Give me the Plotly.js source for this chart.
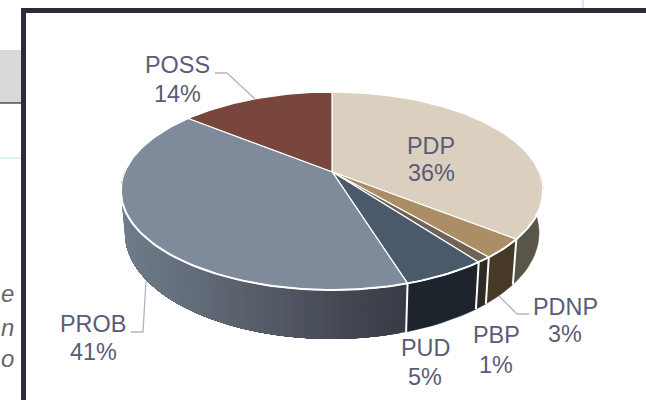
<!DOCTYPE html>
<html><head><meta charset="utf-8">
<script src="https://cdn.plot.ly/plotly-3.0.1.min.js"></script>
<style>html,body{margin:0;padding:0;background:#fff;overflow:hidden}#c{width:646px;height:400px}</style>
</head><body><div id="c"></div>
<script>
const categories = ['PDP','PDNP','PBP','PUD','PROB','POSS'];
const shares = [35.7,3.15,0.95,5.4,40.6,14.2];
const topColors = ['#dbd0bf','#ab8e66','#6f6357','#4a5a6b','#7f8b9b','#78463c'];
const wallColors = ['#5a554b','#463926','#2e2a25','#1e242c',null,'#4a2a24'];
const wallGradientX = [120,200,280,340,410];
const wallGradientRGB = [[112,124,138],[97,106,119],[82,88,100],[68,72,83],[56,59,69]];
const labelPos = [[431,146,173],[565,307,334],[496,335,365],[425,348,377],[93,324,352],[177,65,94]];

// tilted-disc projection (plot x/y range equals the page's pixels)
const cx=332, cy=171.7, A=207, B=95.2, K=0.195;
const topPt = a => { const u=Math.sin(a), v=Math.cos(a), w=1+K*v; return [cx+A*u/w, cy-B*v/w]; };
const lowPt = a => { const p=topPt(a); return [cx+(p[0]-cx)*207/211, 233+(p[1]-191)*106/99]; };
const total = shares.reduce((s,v)=>s+v,0);
const rad = f => f/total*2*Math.PI;
const arc = (a0,a1,fn,step) => { const n=Math.max(2,Math.ceil((a1-a0)/step)), r=[]; for(let i=0;i<=n;i++) r.push(fn(a0+(a1-a0)*i/n)); return r; };
const poly = (pts,fill,lc,lw) => ({type:'scatter',mode:lw>0?'lines':'none',x:pts.map(p=>p[0]),y:pts.map(p=>p[1]),fill:'toself',fillcolor:fill,line:{color:lc,width:lw},hoverinfo:'skip',showlegend:false});
const path = (pts,lc,lw) => ({type:'scatter',mode:'lines',x:pts.map(p=>p[0]),y:pts.map(p=>p[1]),line:{color:lc,width:lw},hoverinfo:'skip',showlegend:false});
const gradient = x => {
  const X=wallGradientX, C=wallGradientRGB; let i=0;
  while(i<X.length-2 && x>X[i+1]) i++;
  const t=Math.min(1,Math.max(0,(x-X[i])/(X[i+1]-X[i])));
  return 'rgb('+C[i].map((c,j)=>Math.round(c+(C[i+1][j]-c)*t)).join(',')+')';
};

const traces=[], edges=[];
const frac=[0]; shares.forEach((v,i)=>frac.push(frac[i]+v));
const d2r=Math.PI/180, visStart=88*d2r, visEnd=272*d2r, rimStart=100*d2r, rimEnd=262*d2r;

// side wall
shares.forEach((v,i)=>{
  const a0=Math.max(rad(frac[i]),visStart), a1=Math.min(rad(frac[i+1]),visEnd);
  if(a1<=a0) return;
  if(wallColors[i]){
    const pts=arc(a0,a1,topPt,0.04).concat(arc(a0,a1,lowPt,0.04).reverse());
    traces.push(poly(pts,wallColors[i],wallColors[i],0.5));
  } else {
    const n=70;
    for(let s=0;s<n;s++){
      const b0=a0+(a1-a0)*s/n, b1=a0+(a1-a0)*(s+1)/n;
      const c=gradient(topPt((b0+b1)/2)[0]);
      // each band runs to the wall's end and is painted over by the next, so no seams show
      const pts=arc(b0,a1,topPt,0.05).concat(arc(b0,a1,lowPt,0.05).reverse());
      traces.push(poly(pts,c,c,0));
    }
  }
  if(rad(frac[i+1])<visEnd && rad(frac[i+1])>visStart) edges.push(rad(frac[i+1]));
});
edges.forEach(a=>traces.push(path([topPt(a),lowPt(a)],'#ffffff',2)));

// top face
shares.forEach((v,i)=>{
  const pts=[[cx,cy]].concat(arc(rad(frac[i]),rad(frac[i+1]),topPt,0.02)); pts.push([cx,cy]);
  traces.push(poly(pts,topColors[i],'#ffffff',1.2));
});
traces.push(path(arc(rimStart,rimEnd,topPt,0.02),'#ffffff',2));

// leader lines
const leaderColor='#b4b4c6';
traces.push(path([[215,73],[227,73],[255,99]],leaderColor,1.3));
traces.push(path([[131,332],[143,332],[146,281]],leaderColor,1.3));
traces.push(path([[529,314],[517,314],[499,296]],leaderColor,1.3));

const annotations=[];
const tf={family:'"Liberation Sans", Arial, sans-serif',size:23.4,color:'#5a5b78'};
const note=(x,y,text,font,xanchor)=>annotations.push({x,y,xref:'x',yref:'y',text,showarrow:false,font,xanchor:xanchor||'center',yanchor:'middle',borderpad:0});
categories.forEach((c,i)=>{
  note(labelPos[i][0],labelPos[i][1],c,tf);
  note(labelPos[i][0],labelPos[i][2],Math.round(shares[i])+'%',tf);
});
const frag={family:'"Liberation Sans", Arial, sans-serif',size:24,color:'#666666'};
note(0,293,'<i>e</i>',frag,'left');
note(0,327,'<i>n</i>',frag,'left');
note(0,358,'<i>o</i>',frag,'left');

const shapes=[
 {type:'rect',x0:0,x1:21,y0:50,y1:103,fillcolor:'#d9d9d9',line:{width:0},layer:'below'},
 {type:'line',x0:0,x1:21,y0:103,y1:103,line:{color:'#000',width:1},layer:'below'},
 {type:'line',x0:0,x1:21,y0:158,y1:158,line:{color:'#bfe6ee',width:1},layer:'below'},
 {type:'line',x0:583,x1:583,y0:0,y1:8,line:{color:'#bfe6ee',width:1.5},layer:'below'},
 {type:'line',x0:23.5,x1:23.5,y0:10.5,y1:402,line:{color:'#2c2b38',width:5},layer:'below'},
 {type:'line',x0:21,x1:650,y0:10.5,y1:10.5,line:{color:'#2c2b38',width:5},layer:'below'}
];

const axis={visible:false,fixedrange:true,showgrid:false,zeroline:false};
Plotly.newPlot('c',traces,{
  width:646,height:400,margin:{l:0,r:0,t:0,b:0},paper_bgcolor:'#ffffff',plot_bgcolor:'#ffffff',
  xaxis:Object.assign({range:[0,646]},axis),yaxis:Object.assign({range:[400,0]},axis),
  showlegend:false,annotations,shapes
},{displayModeBar:false,staticPlot:true});
</script></body></html>
